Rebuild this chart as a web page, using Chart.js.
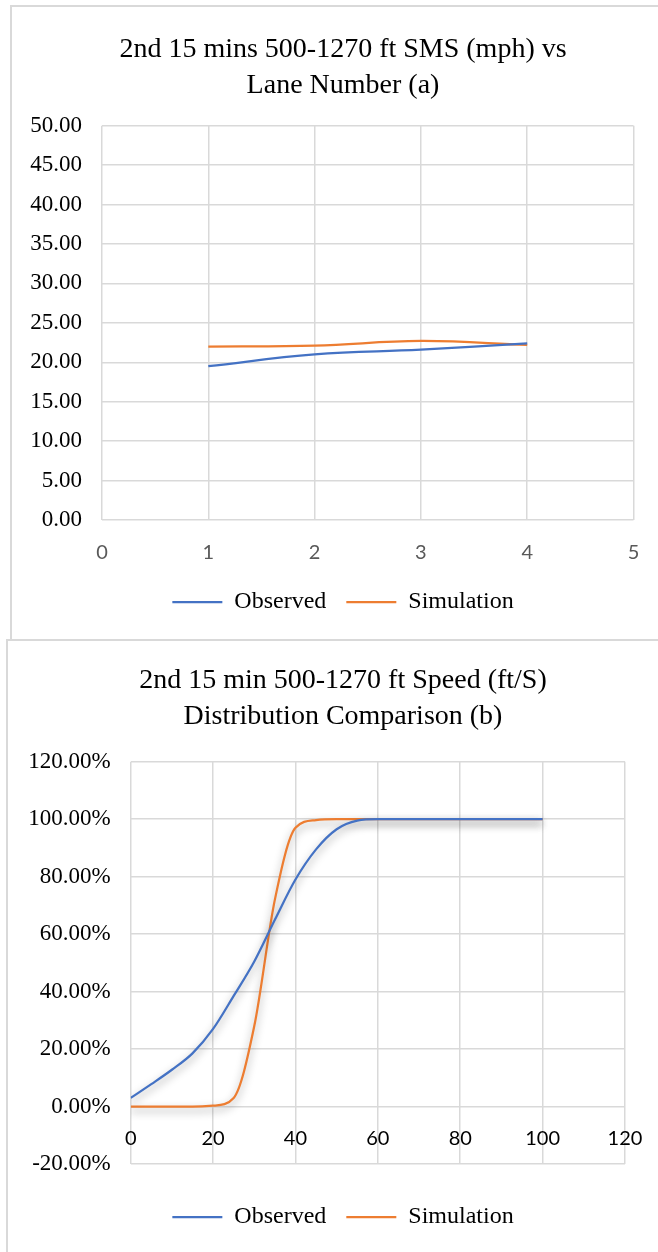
<!DOCTYPE html>
<html>
<head>
<meta charset="utf-8">
<script src="https://cdn.jsdelivr.net/npm/chart.js@4.4.1/dist/chart.umd.min.js"></script>
<style>
  html, body { margin: 0; padding: 0; background: #fff; overflow: hidden; }
  body { width: 658px; height: 1252px; position: relative; }
  .box { position: absolute; border: 2px solid #d9d9d9; box-sizing: border-box; }
  #box1 { left: 10px; top: 5px; width: 700px; height: 636px; }
  #box2 { left: 6px; top: 639px; width: 700px; height: 700px; }
  canvas { position: absolute; left: 0; }
  #chartA { top: 0; }
  #chartB { top: 640px; }
</style>
</head>
<body>
<div class="box" id="box1"></div>
<div class="box" id="box2"></div>
<canvas id="chartA" width="686" height="640"></canvas>
<canvas id="chartB" width="686" height="612"></canvas>
<script>
const serif = "'Liberation Serif', 'Times New Roman', serif";
const sans = "Lato, Carlito, Calibri, sans-serif";

// chart (a): SMS by lane
const laneNumbers = [1, 2, 3, 4];
const smsObserved = [19.5, 21.0, 21.6, 22.4];
const smsSimulation = [22.0, 22.1, 22.7, 22.2];

// chart (b): cumulative speed distribution, in percent
const speedBins = [0, 5, 10, 15, 20, 25, 30, 35, 40, 45, 50, 55, 60, 65, 70, 75, 80, 85, 90, 95, 100];
const cdfObserved = [3, 7.8, 12.8, 18.5, 27, 38.5, 50.5, 65, 79, 89.5, 96.5, 99.5, 100, 100, 100, 100, 100, 100, 100, 100, 100];
const cdfSimulation = [0, 0, 0, 0, 0.3, 3, 28, 72, 97, 99.7, 100, 100, 100, 100, 100, 100, 100, 100, 100, 100, 100];

const seriesNames = ["Observed", "Simulation"];
const blue = "#4472C4";
const orange = "#ED7D31";
const gridColor = "#d9d9d9";

const toPoints = (xs, ys) => xs.map((x, i) => ({ x: x, y: ys[i] }));

const lineShadow = {
  id: "lineShadow",
  beforeDatasetsDraw: (chart) => {
    const ctx = chart.ctx;
    ctx.save();
    ctx.shadowColor = "rgba(0, 0, 0, 0.4)";
    ctx.shadowBlur = 8;
    ctx.shadowOffsetY = 4;
  },
  afterDatasetsDraw: (chart) => {
    chart.ctx.restore();
  }
};

const grid = { color: gridColor, lineWidth: 1.5, drawTicks: false };

// empty axes that only reserve room (below the plot, right of the plot)
const spacer = (position, size) => ({
  type: "linear",
  position: position,
  ticks: { display: false },
  grid: { display: false },
  border: { display: false },
  afterFit: (s) => {
    if (position === "bottom") s.height = size;
    else s.width = size;
  }
});

const legend = {
  position: "bottom",
  labels: {
    usePointStyle: true,
    pointStyle: "line",
    pointStyleWidth: 50,
    padding: 20,
    color: "#000",
    font: { family: serif, size: 24 }
  }
};

const title = (lines, top, bottom) => ({
  display: true,
  text: lines,
  color: "#000",
  font: { family: serif, size: 28, weight: "normal", lineHeight: 1.3 },
  padding: { top: top, bottom: bottom }
});

const dataset = (label, color, data, extra) => Object.assign({
  label: label,
  data: data,
  borderColor: color,
  backgroundColor: color,
  borderWidth: 2.25,
  pointRadius: 0,
  fill: false
}, extra);

new Chart(document.getElementById("chartA"), {
  type: "line",
  data: {
    datasets: [
      dataset(seriesNames[0], blue, toPoints(laneNumbers, smsObserved), { tension: 0.4 }),
      dataset(seriesNames[1], orange, toPoints(laneNumbers, smsSimulation), { tension: 0.4 })
    ]
  },
  options: {
    responsive: false,
    animation: false,
    layout: { padding: { left: 0, right: 0, top: 0, bottom: 16 } },
    plugins: {
      title: title(["2nd 15 mins 500-1270 ft SMS (mph) vs", "Lane Number (a)"], 31.5, 21.4),
      legend: legend,
      tooltip: { enabled: false }
    },
    scales: {
      x: {
        type: "linear",
        min: 0,
        max: 5,
        ticks: { stepSize: 1, padding: 21, color: "#595959", font: { family: sans, size: 20 } },
        grid: grid,
        border: { display: false },
        afterFit: (s) => { s.height = 50; }
      },
      y: {
        min: 0,
        max: 50,
        ticks: {
          stepSize: 5,
          padding: 20,
          color: "#000",
          font: { family: serif, size: 23 },
          callback: (v) => v.toFixed(2)
        },
        grid: grid,
        border: { display: false },
        afterFit: (s) => { s.width = 102; }
      },
      yGap: spacer("right", 52.5)
    }
  }
});

new Chart(document.getElementById("chartB"), {
  type: "line",
  data: {
    datasets: [
      dataset(seriesNames[0], blue, toPoints(speedBins, cdfObserved), { cubicInterpolationMode: "monotone" }),
      dataset(seriesNames[1], orange, toPoints(speedBins, cdfSimulation), { cubicInterpolationMode: "monotone" })
    ]
  },
  options: {
    responsive: false,
    animation: false,
    layout: { padding: { left: 0, right: 0, top: 0, bottom: 13 } },
    plugins: {
      title: title(["2nd 15 min 500-1270 ft Speed (ft/S)", "Distribution Comparison (b)"], 22.5, 26.4),
      legend: legend,
      tooltip: { enabled: false }
    },
    scales: {
      x: {
        type: "linear",
        position: { y: 0 },
        min: 0,
        max: 120,
        ticks: { stepSize: 20, padding: 20, color: "#000", font: { family: sans, size: 20 } },
        grid: grid,
        border: { display: false }
      },
      xGap: spacer("bottom", 21),
      y: {
        min: -20,
        max: 120,
        ticks: {
          stepSize: 20,
          padding: 20,
          color: "#000",
          font: { family: serif, size: 23 },
          callback: (v) => v.toFixed(2) + "%"
        },
        grid: grid,
        border: { display: false },
        afterFit: (s) => { s.width = 130.7; }
      },
      yGap: spacer("right", 61)
    }
  },
  plugins: [lineShadow]
});
</script>
</body>
</html>
